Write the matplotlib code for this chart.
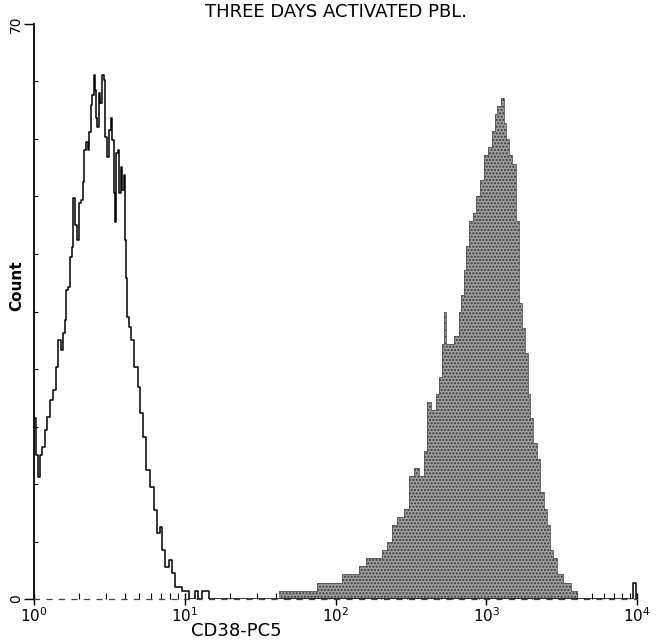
import matplotlib
matplotlib.use("Agg")
import matplotlib.pyplot as plt
from matplotlib.ticker import FixedLocator, NullFormatter
import numpy as np

# ---------------- data ----------------
title = "THREE DAYS ACTIVATED PBL."
x_label = "CD38-PC5"
y_label = "Count"

# negative control (open line histogram): log10 intensity at the left edge of each step, count
neg_log = [0.000, 0.013, 0.027, 0.040, 0.053, 0.073, 0.086, 0.106, 0.126, 0.146,
           0.159, 0.179, 0.192, 0.206, 0.212, 0.226, 0.239, 0.252, 0.259, 0.272,
           0.285, 0.299, 0.312, 0.325, 0.332, 0.345, 0.358, 0.365, 0.378, 0.385,
           0.398, 0.405, 0.411, 0.418, 0.431, 0.438, 0.451, 0.464, 0.471, 0.484,
           0.498, 0.511, 0.518, 0.531, 0.537, 0.544, 0.557, 0.564, 0.577, 0.584,
           0.597, 0.604, 0.610, 0.617, 0.630, 0.644, 0.664, 0.690, 0.703, 0.723,
           0.743, 0.770, 0.796, 0.816, 0.836, 0.849, 0.869, 0.896, 0.916, 0.936,
           0.982, 1.029, 1.068, 1.088, 1.115, 1.161, 3.975, 3.990]
neg_count = [22, 17.5, 14.8, 17.5, 18.5, 20.6, 22.2, 24.2, 25.4, 28.2,
             31.5, 30.3, 32.4, 34.0, 37.6, 38.0, 41.6, 42.8, 48.8, 45.5,
             43.7, 48.2, 48.6, 50.8, 54.7, 55.6, 54.7, 56.8, 60.1, 61.3,
             63.8, 62.0, 58.6, 57.4, 61.6, 60.4, 63.8, 63.2, 56.2, 53.8,
             57.1, 58.5, 55.9, 49.4, 45.9, 54.3, 54.7, 49.4, 52.6, 49.8,
             51.6, 43.7, 39.1, 34.3, 33.1, 31.5, 28.2, 25.8, 22.6, 19.7,
             15.7, 13.6, 10.8, 8.0, 8.8, 6.0, 3.9, 4.7, 3.2, 1.5,
             1, 0, 1, 0, 1, 0, 2, 0]

# three days activated PBL (filled histogram)
pos_log = [1.626, 1.692, 1.758, 1.878, 1.958, 2.044, 2.103, 2.157, 2.203, 2.269,
           2.309, 2.342, 2.376, 2.409, 2.455, 2.488, 2.522, 2.555, 2.588, 2.608,
           2.634, 2.668, 2.687, 2.707, 2.721, 2.734, 2.760, 2.787, 2.820, 2.833,
           2.853, 2.867, 2.886, 2.913, 2.933, 2.960, 2.986, 3.013, 3.039, 3.059,
           3.072, 3.099, 3.119, 3.132, 3.152, 3.172, 3.198, 3.218, 3.238, 3.258,
           3.278, 3.291, 3.311, 3.338, 3.358, 3.384, 3.404, 3.424, 3.444, 3.471,
           3.510, 3.563, 3.603]
pos_count = [1, 1, 1, 2, 2, 3, 3, 4, 5, 5,
             6, 7, 9, 10, 11, 15, 16, 15, 18, 24,
             23, 25, 27, 31, 35, 31, 31, 32, 35, 37,
             40, 43, 46, 47, 49, 51, 54, 55, 57, 59,
             60, 61, 58, 56, 54, 53, 46, 36, 33, 30,
             25, 22, 19, 17, 13, 11, 9, 6, 5, 3,
             2, 1, 0]

x_ticks = [1, 10, 100, 1000, 10000]
x_tick_labels = ["$10^{0}$", "$10^{1}$", "$10^{2}$", "$10^{3}$", "$10^{4}$"]
y_major = [0, 70]
y_minor = [7, 14, 21, 28, 35, 42, 49, 56, 63]

# ---------------- figure ----------------
plt.rcParams['font.family'] = ['DejaVu Sans']
fig = plt.figure(figsize=(6.57, 6.43), dpi=100)
ax = fig.add_axes([0.0518, 0.0684, 0.9178, 0.8943])

neg_x = 10 ** np.array(neg_log)
pos_x = 10 ** np.array(pos_log)

ax.fill_between(pos_x, pos_count, step='post', facecolor='#a0a0a0',
                edgecolor='#333333', hatch='.....', linewidth=0, zorder=2)
ax.step(pos_x, pos_count, where='post', color='#555555', linewidth=0.6, zorder=3)
ax.step(neg_x, neg_count, where='post', color='black', linewidth=1.1, zorder=4)

ax.set_xscale('log')
ax.set_xlim(1, 10000)
ax.set_ylim(0, 70)

for s in ['top', 'right']:
    ax.spines[s].set_visible(False)
ax.spines['left'].set_linewidth(1.3)
ax.spines['bottom'].set_linewidth(0.9)
ax.spines['bottom'].set_linestyle((0, (4, 6)))
ax.spines['bottom'].set_color('#444444')

ax.xaxis.set_major_locator(FixedLocator(x_ticks))
ax.set_xticklabels(x_tick_labels, fontsize=11)
minor_x = [m * 10 ** d for d in range(4) for m in range(2, 10)]
ax.xaxis.set_minor_locator(FixedLocator(minor_x))
ax.xaxis.set_minor_formatter(NullFormatter())
ax.tick_params(axis='x', which='major', direction='inout', length=8, width=1, pad=1)
ax.tick_params(axis='x', which='minor', direction='in', length=4, width=0.8)

ax.yaxis.set_major_locator(FixedLocator(y_major))
ax.set_yticklabels([str(v) for v in y_major], rotation=90, va='center', fontsize=10)
ax.yaxis.set_minor_locator(FixedLocator(y_minor))
ax.tick_params(axis='y', which='major', direction='out', length=7, width=1, pad=1)
ax.tick_params(axis='y', which='minor', direction='in', length=3, width=0.8)

ax.set_title(title, fontsize=13, pad=5)
ax.set_xlabel(x_label, fontsize=13, labelpad=0)
ax.xaxis.set_label_coords(0.335, -0.040)
ax.set_ylabel(y_label, fontsize=11, fontweight='bold', labelpad=2)
ax.yaxis.set_label_coords(-0.017, 0.545)

fig.savefig("out.png", dpi=100)
